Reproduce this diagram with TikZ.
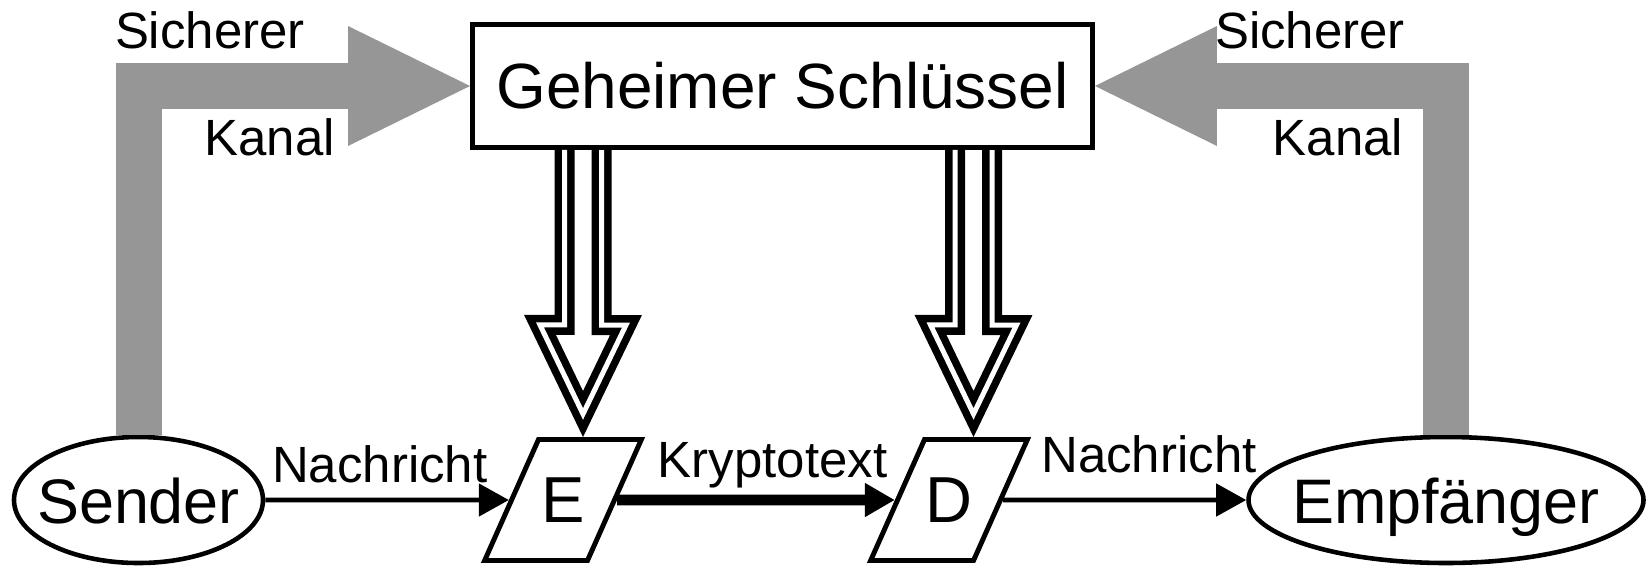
\documentclass[tikz,border=0pt]{standalone}
\usepackage{fontspec}
\setmainfont{Liberation Sans}
\usetikzlibrary{arrows.meta, shapes.geometric, positioning}
\definecolor{kanalgrau}{RGB}{150,150,150}

\begin{document}
\begin{tikzpicture}[
        party/.style={ellipse, draw, line width=1.3pt, inner xsep=-0.2cm, inner ysep=0pt, minimum height=1.26cm, text height=0.46cm, text depth=0cm, font=\fontsize{17.9}{20}\selectfont},
        crypt/.style={trapezium, trapezium left angle=66, trapezium right angle=114, draw, line width=1.4pt, text width=0.47cm, align=center, text height=0.45cm, text depth=0cm, inner xsep=0.01cm, inner ysep=0.38cm, font=\fontsize{18.5}{20}\selectfont},
        lbl/.style={text=black, outer sep=0pt, font=\fontsize{14.5}{16}\selectfont},
        kanal/.style={kanalgrau, line width=0.46cm, -{Triangle[length=1.22cm, width=1.2cm, line width=0pt]}},
        keyline/.style={draw=black, line width=0.075cm, double=white, double distance=0.05cm, line join=miter},
        msg/.style={line width=1.3pt, -{Triangle[length=0.3cm, width=0.32cm]}}
    ]
        \useasboundingbox (0,0) rectangle (16.49,5.65);

        \node[draw, line width=1.4pt, minimum width=6.2cm, minimum height=1.23cm, font=\fontsize{18.2}{22}\selectfont] (Key) at (7.825,4.79) {Geheimer Schlüssel};

        \node[party, minimum width=2.49cm] (Sender) at (1.385,0.65) {Sender};
        \node[crypt, node distance=4.245cm, right of=Sender] (E) {E};
        \node[crypt, node distance=3.86cm, right of=E] (D) {D};
        \node[party, minimum width=3.95cm, node distance=4.97cm, right of=D] (Empf) {Empfänger};

        \coordinate (Etip) at ([xshift=0.2cm, yshift=0.23cm]E.north);
        \coordinate (Dtip) at ([xshift=0.245cm, yshift=0.23cm]D.north);

        \draw[kanal] (Sender.north) |- node[lbl, pos=0.5, anchor=base west, inner sep=0pt, xshift=-0.235cm, yshift=0.38cm] {Sicherer}
            node[lbl, pos=0.5, anchor=base east, inner sep=0pt, xshift=1.965cm, yshift=-0.69cm] {Kanal} (Key.west);
        \draw[kanal] (Empf.north) |- node[lbl, pos=0.5, anchor=base west, inner sep=0pt, xshift=-2.31cm, yshift=0.38cm] {Sicherer}
            node[lbl, pos=0.5, anchor=base east, inner sep=0pt, xshift=-0.43cm, yshift=-0.69cm] {Kanal} (Key.east);

        \draw[keyline] (Key.south -| Etip) ++(-0.185,0) -- ++(0,-1.75) -- ++(-0.245,0) -- (Etip) -- ++(0.43,0.89) -- ++(-0.245,0) -- ++(0,1.75);
        \draw[keyline] (Key.south -| Dtip) ++(-0.185,0) -- ++(0,-1.75) -- ++(-0.245,0) -- (Dtip) -- ++(0.43,0.89) -- ++(-0.245,0) -- ++(0,1.75);

        \draw[msg] (Sender) -- node[lbl, above=0.05cm, pos=0.47] {Nachricht} (E);
        \draw[msg, line width=3.1pt] (E) -- node[lbl, above, pos=0.56] {Kryptotext} (D);
        \draw[msg] (D) -- node[lbl, above=0.15cm, pos=0.6] {Nachricht} (Empf);
    \end{tikzpicture}
\end{document}
